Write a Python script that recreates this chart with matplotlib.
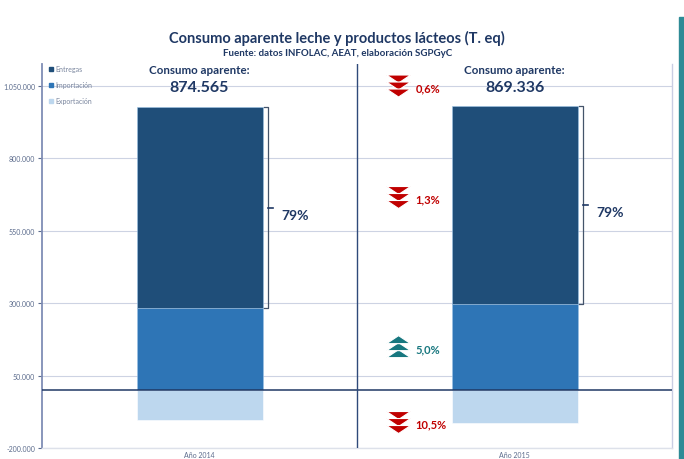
import matplotlib
matplotlib.use("Agg")
import matplotlib.pyplot as plt
import matplotlib.transforms as mtransforms
from matplotlib.patches import Patch, Polygon, Rectangle
from matplotlib.ticker import FuncFormatter

plt.rcParams['font.family'] = ['Lato', 'DejaVu Sans']

# datos (toneladas equivalentes)
periodos = ["Año 2014", "Año 2015"]
entregas = [695000, 686000]
importacion = [282000, 296000]
exportacion = [-102435, -112664]

# variaciones 2015/2014
var_labels = ["0,6%", "1,3%", "5,0%", "10,5%"]
var_dir = ["down", "down", "up", "down"]
var_y = [1050000, 665000, 150000, -112000]

NAVY = "#1F3864"
C_ENT = "#1F4E79"
C_IMP = "#2E75B6"
C_EXP = "#BDD7EE"
RED = "#C00000"
TEAL = "#17777F"
GRID = "#CDD3E3"


def fmt_miles(v, pos=None):
    s = f"{abs(v):,.0f}".replace(",", ".")
    return "-" + s if v < 0 else s


fig = plt.figure(figsize=(6.84, 4.60), dpi=100)
ax = fig.add_axes([42 / 684, 11 / 460, 630 / 684, 384 / 460])

x = list(range(len(periodos)))
w = 0.4
ax.bar(x, importacion, w, color=C_IMP, edgecolor="#9DC3E6", linewidth=0.4, zorder=3)
ax.bar(x, entregas, w, bottom=importacion, color=C_ENT, edgecolor="#9DC3E6",
       linewidth=0.4, zorder=3)
ax.bar(x, exportacion, w, color=C_EXP, edgecolor="white", linewidth=0.4, zorder=3)

ax.set_xlim(-0.5, 1.5)
ax.set_ylim(-200000, 1126000)
ax.yaxis.set_major_formatter(FuncFormatter(fmt_miles))
# los ticks empiezan en -200.000
ax.set_yticks([-200000 + 250000 * i for i in range(6)])
ax.grid(axis="y", color=GRID, linewidth=0.8, zorder=0)
ax.tick_params(axis="y", labelsize=5, colors="#5B6B8C", length=3, width=0.8,
               direction="out", pad=2)
ax.set_xticks(x)
ax.set_xticklabels(periodos, fontsize=5, color="#5B6B8C")
ax.tick_params(axis="x", length=0, pad=2.5)

ax.spines["top"].set_visible(False)
ax.spines["left"].set_color("#7F8DB5")
ax.spines["left"].set_linewidth(1.3)
ax.spines["right"].set_color("#C9CDE3")
ax.spines["right"].set_linewidth(1.0)
ax.spines["bottom"].set_color("#DDE1EA")
ax.spines["bottom"].set_linewidth(1.0)

ax.axhline(0, color=NAVY, linewidth=1.1, zorder=4)
ax.axvline(0.5, color="#2F4A7A", linewidth=1.0, zorder=4)

# cabeceras de consumo aparente
hdr = mtransforms.blended_transform_factory(ax.transData, ax.transAxes)
for i in x:
    consumo = entregas[i] + importacion[i] + exportacion[i]
    ax.text(i, 0.985, "Consumo aparente:", transform=hdr, ha="center", va="center",
            fontsize=8.3, fontweight="bold", color=NAVY)
    ax.text(i, 0.94, fmt_miles(consumo), transform=hdr, ha="center", va="center",
            fontsize=11.5, fontweight="bold", color=NAVY)

    # corchete de entregas
    y0 = importacion[i]
    y1 = importacion[i] + entregas[i]
    xb = i + w / 2 + 0.019
    ax.plot([i + w / 2 + 0.006, xb, xb, i + w / 2 + 0.006], [y1, y1, y0, y0],
            color="#44546A", linewidth=0.9, zorder=5)
    ym = (y0 + y1) / 2
    ax.plot([xb, xb + 0.014], [ym, ym], color=NAVY, linewidth=1.2, zorder=5)
    pct = round(100 * entregas[i] / consumo)
    ax.text(xb + 0.04, ym - 25000, f"{pct}%", ha="left", va="center",
            fontsize=10, fontweight="bold", color=NAVY)


def chevrons(xc, yc, kind, color):
    base = mtransforms.ScaledTranslation(xc, yc, ax.transData)
    for k in range(3):
        if kind == "down":
            dy = 7 - 7 * k
            pts = [(-12, dy + 4), (12, dy + 4), (0, dy - 4)]
        else:
            dy = -7 + 7 * k
            pts = [(-12, dy - 4), (12, dy - 4), (0, dy + 4)]
        poly = Polygon(pts, closed=True, facecolor=color, edgecolor="white",
                       linewidth=0.8, transform=mtransforms.Affine2D() + base,
                       zorder=6, clip_on=False)
        ax.add_patch(poly)


for lab, d, yv in zip(var_labels, var_dir, var_y):
    col = RED if d == "down" else TEAL
    chevrons(0.632, yv, d, col)
    ax.text(0.685, yv - 6000, lab, ha="left", va="center", fontsize=8,
            fontweight="bold", color=col)

handles = [Patch(color=C_ENT), Patch(color=C_IMP), Patch(color=C_EXP)]
fig.legend(handles, ["Entregas", "Importación", "Exportación"],
           loc="upper left", bbox_to_anchor=(43 / 684, 1 - 60 / 460),
           frameon=False, handlelength=0.6, handleheight=0.6,
           handletextpad=0.3, labelspacing=1.3, prop={"size": 5},
           labelcolor="#7A869E")

fig.text(0.493, 1 - 38 / 460, "Consumo aparente leche y productos lácteos (T. eq)",
         ha="center", va="center", fontsize=10.5, fontweight="bold", color=NAVY)
fig.text(0.493, 1 - 53 / 460, "Fuente: datos INFOLAC, AEAT, elaboración SGPGyC",
         ha="center", va="center", fontsize=7, fontweight="bold", color=NAVY)

fig.patches.append(Rectangle((679 / 684, 0), 6 / 684, 1 - 18 / 460,
                             transform=fig.transFigure, color="#2E8B96"))

fig.savefig("out.png", dpi=100)
